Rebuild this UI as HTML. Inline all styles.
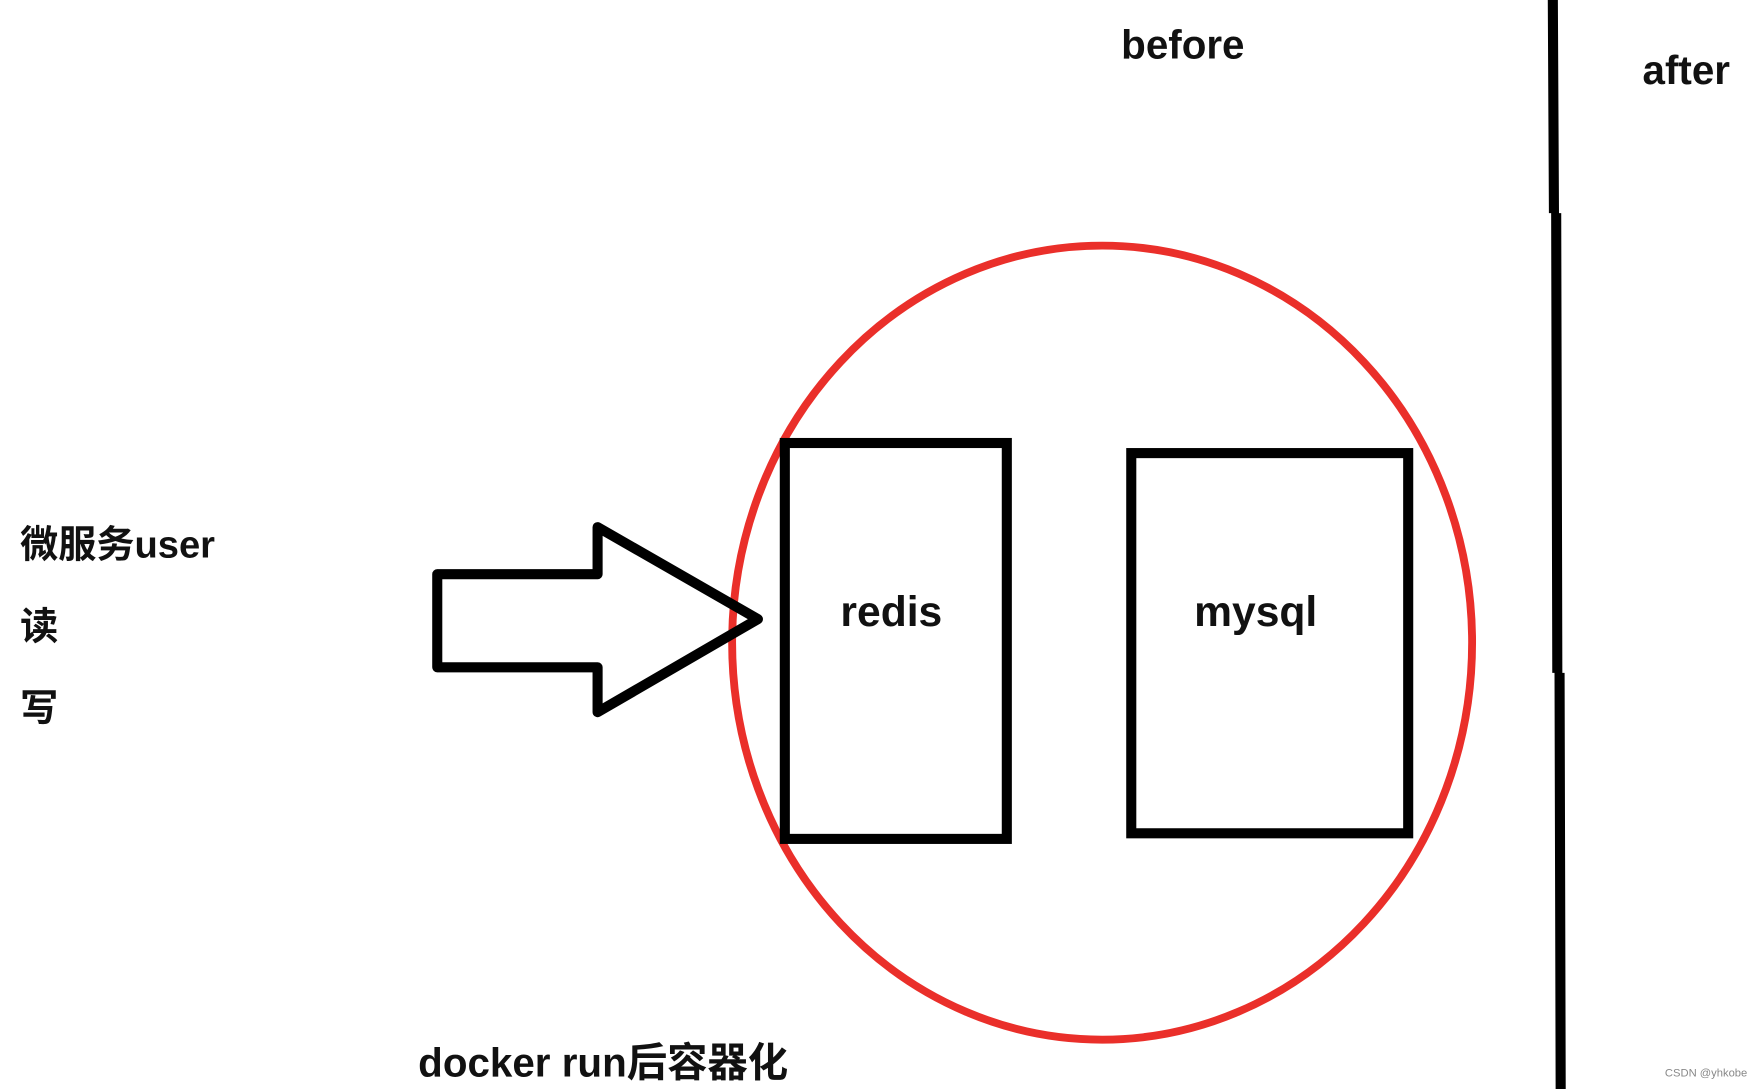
<!DOCTYPE html>
<html><head><meta charset="utf-8"><style>
html,body{margin:0;padding:0;background:#fff;width:1758px;height:1089px;overflow:hidden}
svg{display:block}
text{font-family:"Liberation Sans","Noto Sans CJK SC",sans-serif;font-weight:bold;fill:#111}
</style></head><body>
<svg width="1758" height="1089" viewBox="0 0 1568 971" preserveAspectRatio="none">
<rect width="1568" height="971" fill="#fff"/>
<text x="1000" y="52" font-size="36">before</text>
<text x="1465" y="75" font-size="36">after</text>
<path d="M1385 0 L1386 190 M1388 190 L1389 600 M1391 600 L1392 971" stroke="#000" stroke-width="9" fill="none"/>
<ellipse cx="983" cy="573" rx="330" ry="354" fill="none" stroke="#ea2f2a" stroke-width="7"/>
<rect x="700" y="395" width="198" height="353" fill="none" stroke="#000" stroke-width="9"/>
<rect x="1009" y="404" width="247" height="339" fill="none" stroke="#000" stroke-width="9"/>
<text x="795" y="558" font-size="38" text-anchor="middle">redis</text>
<text x="1120" y="558" font-size="38" text-anchor="middle">mysql</text>
<polygon points="390,512 533,512 533,470 676,552 533,635 533,595 390,595" fill="none" stroke="#000" stroke-width="9" stroke-linejoin="round"/>
<text x="18" y="497" font-size="34">微服务user</text>
<text x="18" y="570" font-size="34">读</text>
<text x="18" y="643" font-size="34">写</text>
<text x="373" y="960" font-size="36">docker run后容器化</text>
<text x="1485" y="960" font-size="10" style="font-weight:normal;fill:#888">CSDN @yhkobe</text>
</svg>
</body></html>
